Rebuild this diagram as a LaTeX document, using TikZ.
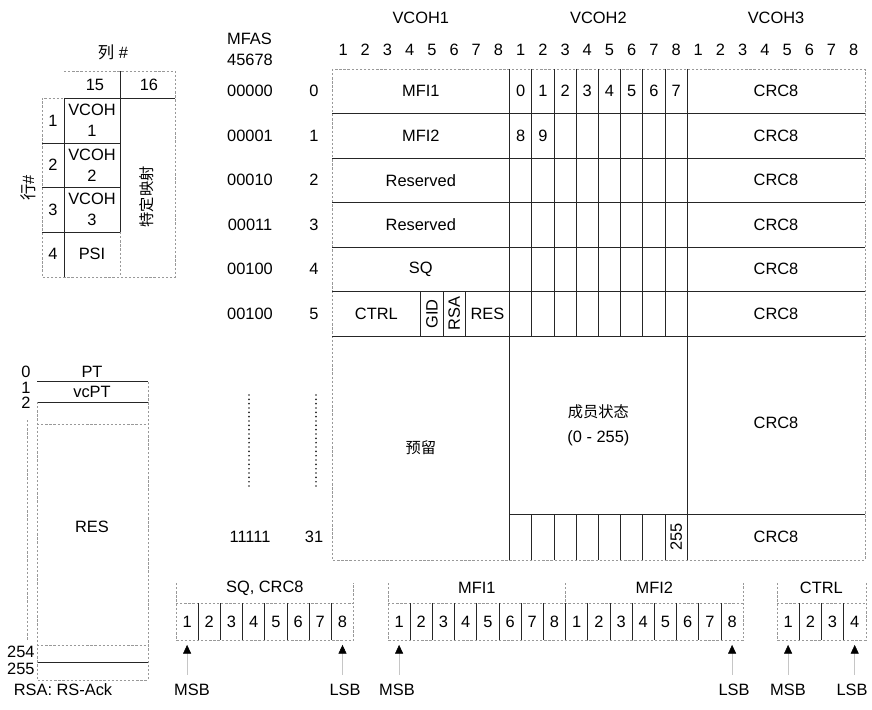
\documentclass[tikz,border=0pt]{standalone}
\usepackage{fontspec}
\setmainfont{Liberation Sans}
\newfontfamily\cjk{Noto Sans CJK SC}
\usetikzlibrary{positioning, arrows.meta, calc}

\begin{document}
\begin{tikzpicture}[
  x=0.03cm, y=-0.03cm,
  every node/.style={font=\fontsize{14}{18}\selectfont, inner sep=1pt},
  zh/.style   = {font=\cjk\fontsize{13}{18}\selectfont},
  bit/.style  = {minimum width=0.666cm, minimum height=1.11cm, inner sep=0pt},
  rule/.style = {line width=0.6pt, black!85},
  faint/.style= {line width=0.5pt, black!40, dash pattern=on 2pt off 1.5pt},
  dotcol/.style={line width=1.6pt, line cap=round, dash pattern=on 0pt off 3.7pt, black!85},
  arr/.style  = {-{Triangle[length=2.6mm, width=2.4mm, color=black]}, line width=0.4pt, gray!45, shorten >=4pt, shorten <=7pt},
]
  \useasboundingbox (0,0) rectangle (872,710);
  % Overhead columns: VCOH1..3, bit numbers 1..8 each.
  \node (vcoh1) at (420.8,18) {VCOH1};
  \node (vcoh2) at (598.4,18) {VCOH2};
  \node (vcoh3) at (776.0,18) {VCOH3};
  \node[align=left] (mfas) at (250,49) {MFAS\\45678};
  \foreach \g in {0,1,2}
    \foreach \b in {1,...,8}
      \node (hd\g\b) at ({332+(8*\g+\b-0.5)*22.2},50) {\b};
  % Multiframe grid.
  \draw[faint] (332,69) rectangle (864.8,560);
  \foreach \y in {113.5,158,202.5,247,291.5,336}
    \draw[rule] (332,\y) -- (864.8,\y);
  \draw[rule] (509.6,514) -- (864.8,514);
  \foreach \x in {509.6,687.2}
    \draw[rule] (\x,69) -- (\x,560);
  \foreach \b in {9,...,15} {
    \draw[rule] ({332+\b*22.2},69) -- ({332+\b*22.2},336);
    \draw[rule] ({332+\b*22.2},514) -- ({332+\b*22.2},560);
  }
  \foreach \b in {4,5,6}
    \draw[rule] ({332+\b*22.2},291.5) -- ({332+\b*22.2},336);
  % Rows 0..4.
  \foreach \r/\m/\t in {0/00000/MFI1, 1/00001/MFI2, 2/00010/Reserved,
                        3/00011/Reserved, 4/00100/SQ} {
    \node (mf\r)  at (250,{91.25+44.5*\r}) {\m};
    \node (rn\r)  at (314,{91.25+44.5*\r}) {\r};
    \node (v1r\r) at (420.8,{91.25+44.5*\r}) {\t};
    \node (v3r\r) at (776,{91.25+44.5*\r}) {CRC8};
  }
  \foreach \b in {0,...,7}
    \node (ms\b) at ({509.6+(\b+0.5)*22.2},91.25) {\b};
  \foreach \b in {8,9}
    \node (ms\b) at ({509.6+(\b-7.5)*22.2},135.75) {\b};
  % Row 5.
  \node (mf5)  at (250,313.75) {00100};
  \node (rn5)  at (314,313.75) {5};
  \node (ctrl) at (376.4,313.75) {CTRL};
  \node[rotate=90] (gid) at (431.9,313.75) {GID};
  \node[rotate=90] (rsa) at (454.1,313.75) {RSA};
  \node (res)  at (487.4,313.75) {RES};
  \node (v3r5) at (776,313.75) {CRC8};
  % Rows 6..31.
  \draw[dotcol] (249,395) -- (249,488);
  \draw[dotcol] (316,395) -- (316,488);
  \node[zh] (yuliu) at (420.8,448) {预留};
  \node[align=center] (state) at (598.4,425) {{\cjk\fontsize{13}{18}\selectfont 成员状态}\\[3pt](0 - 255)};
  \node (v3big) at (776,423) {CRC8};
  \node (mf31)  at (250,537) {11111};
  \node (rn31)  at (314,537) {31};
  \node[rotate=90] (ms255) at (676.1,537) {255};
  \node (v3r31) at (776,537) {CRC8};

  % Upper left: columns 15/16 of the frame.
  \node (colno) at (113,52) {{\cjk 列}~\#};
  \node[rotate=90] (rowno) at (28,188) {{\cjk 行}\#};
  \node (c15) at (95,85) {15};
  \node (c16) at (149,85) {16};
  \draw[faint] (64,71) -- (175,71) -- (175,277) -- (42,277) -- (42,98) -- (64,98);
  \draw[faint] (120,232) -- (120,277);
  \draw[rule] (64,98) -- (64,277);
  \draw[rule] (120,71) -- (120,232);
  \draw[rule] (64,98) -- (175,98);
  \foreach \y in {143,187,232}
    \draw[rule] (42,\y) -- (120,\y);
  \foreach \r/\t in {1/VCOH\\1, 2/VCOH\\2, 3/VCOH\\3, 4/PSI} {
    \node (rw\r) at (53,{76+44.5*\r}) {\r};
    \node[align=center] (oh\r) at (92,{76+44.5*\r}) {\t};
  }
  \node[zh, rotate=90] (spec) at (147,197) {特定映射};

  % Lower left: VCOH byte 255 column.
  \node[anchor=east] (b0) at (32,372) {0};
  \node[anchor=east] (b1) at (32,388) {1};
  \node[anchor=east] (b2) at (32,403) {2};
  \node[anchor=east] (b254) at (36,652) {254};
  \node[anchor=east] (b255) at (36,669) {255};
  \node (pt)   at (92,372) {PT};
  \node (vcpt) at (92,392) {vcPT};
  \node (bres) at (92,527) {RES};
  \foreach \y in {381,402,662}
    \draw[rule] (37,\y) -- (148,\y);
  \draw[faint] (37,402) -- (37,680) -- (148,680) -- (148,381);
  \draw[faint] (37,424) -- (148,424);
  \draw[faint] (37,645) -- (148,645);
  \draw[faint] (27,420) -- (27,640);
  \node (rsaack) at (63,690) {RSA: RS-Ack};

  % Bit order of the fields.
  \foreach \x/\n/\g in {176/8/sq, 388/16/mfi, 777/4/ctl} {
    \draw[faint] (\x,583) -- (\x,640) -- ({\x+\n*22.2},640) -- ({\x+\n*22.2},583);
    \draw[faint] (\x,603) -- ({\x+\n*22.2},603);
    \foreach \b in {1,...,\n} {
      \pgfmathtruncatemacro\k{mod(\b-1,8)+1}
      \node[bit] (\g\b) at ({\x+(\b-0.5)*22.2},621.5) {\k};
    }
    \pgfmathtruncatemacro\m{\n-1}
    \foreach \b in {1,...,\m}
      \draw[rule] ({\x+\b*22.2},603) -- ({\x+\b*22.2},640);
  }
  \draw[faint] (565.6,583) -- (565.6,603);
  \node (lsq)   at (264.8,588) {SQ, CRC8};
  \node (lmfi1) at (476.8,588) {MFI1};
  \node (lmfi2) at (654.4,588) {MFI2};
  \node (lctl)  at (821.4,588) {CTRL};
  \node (msbsq)  at (192,690) {MSB};
  \node (lsbsq)  at (345,690) {LSB};
  \node (msbmfi) at (397,690) {MSB};
  \node (lsbmfi) at (734,690) {LSB};
  \node (msbctl) at (788,690) {MSB};
  \node (lsbctl) at (852,690) {LSB};
  \foreach \a/\b in {msbsq/sq1, lsbsq/sq8, msbmfi/mfi1, lsbmfi/mfi16,
                     msbctl/ctl1, lsbctl/ctl4}
    \draw[arr] (\a.north -| \b.south) -- (\b.south);
\end{tikzpicture}
\end{document}
